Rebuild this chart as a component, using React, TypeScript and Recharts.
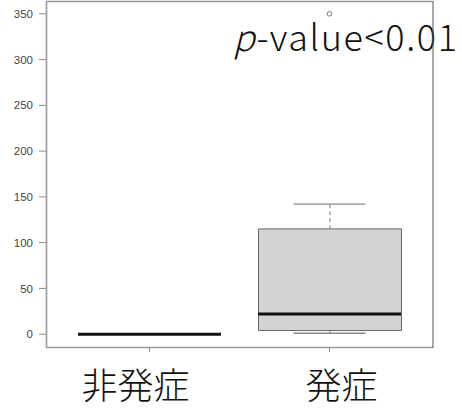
import React from "react";
import { ComposedChart, Bar, Scatter, XAxis, YAxis } from "recharts";

// group statistics
const groups = ["非発症", "発症"];
const whiskerLow = [0, 1];
const q1 = [0, 4];
const median = [0, 22];
const q3 = [0, 115];
const whiskerHigh = [0, 142];
const outliers: (number | null)[] = [null, 350];
const yTicks = [0, 50, 100, 150, 200, 250, 300, 350];

const data = groups.map((name, i) => ({
  name,
  box: [q1[i], q3[i]],
  upper: [q3[i], whiskerHigh[i]],
  lower: [whiskerLow[i], q1[i]],
  median: median[i],
  hi: whiskerHigh[i],
  lo: whiskerLow[i],
  outlier: outliers[i],
}));

const W = 462;
const H = 411;
const BOX_W = 143;
const LABEL_DX: Record<string, number> = { 非発症: -14, 発症: 12 };
const JP_FONT = '"Noto Sans CJK JP", "Noto Sans", sans-serif';

const Whisker = (props: any) => {
  const { x, y, width, height } = props;
  if (!height || !isFinite(y)) return null;
  const cx = x + width / 2;
  const top = Math.min(y, y + height);
  return (
    <line x1={cx} x2={cx} y1={top} y2={top + Math.abs(height)} stroke="#777" strokeWidth={1} strokeDasharray="4 3" />
  );
};

const hLine = (half: number, stroke: string, sw: number) => (props: any) => {
  const { cx, cy } = props;
  if (!isFinite(cx) || !isFinite(cy)) return null;
  return <line x1={cx - half} x2={cx + half} y1={cy} y2={cy} stroke={stroke} strokeWidth={sw} />;
};

const Outlier = (props: any) => {
  const { cx, cy, payload } = props;
  if (payload?.outlier == null || !isFinite(cy)) return null;
  return <circle cx={cx} cy={cy} r={2.3} fill="none" stroke="#777" strokeWidth={1} />;
};

const GroupTick = (props: any) => {
  const { x, y, payload } = props;
  return (
    <text
      x={x + (LABEL_DX[payload.value] ?? 0)}
      y={y + 29}
      textAnchor="middle"
      dominantBaseline="central"
      fontSize={36}
      fontFamily={JP_FONT}
      fontWeight={300}
      fill="#111"
    >
      {payload.value}
    </text>
  );
};

export default function App() {
  return (
    <div style={{ position: "relative", width: W, height: H, background: "#fff" }}>
      <style>{`body{margin:0}`}</style>
      <ComposedChart width={W} height={H} data={data} margin={{ top: 1, right: 29, left: 0, bottom: 0 }}>
        <XAxis
          dataKey="name"
          height={64}
          padding={{ left: 13.5, right: 13.5 }}
          axisLine={false}
          tickSize={5}
          tickLine={{ stroke: "#888" }}
          tick={<GroupTick />}
          interval={0}
        />
        <XAxis xAxisId="w1" dataKey="name" hide padding={{ left: 13.5, right: 13.5 }} />
        <XAxis xAxisId="w2" dataKey="name" hide padding={{ left: 13.5, right: 13.5 }} />
        <YAxis
          width={46}
          domain={[-14, 364]}
          ticks={yTicks}
          allowDataOverflow
          axisLine={false}
          tickSize={7}
          tickMargin={6}
          tickLine={{ stroke: "#888" }}
          tick={{ fill: "#444", fontSize: 11.5, fontFamily: '"Liberation Sans", Arial, sans-serif' }}
        />
        <Bar dataKey="box" barSize={BOX_W} fill="#d3d3d3" stroke="#666" strokeWidth={1} isAnimationActive={false} />
        <Bar xAxisId="w1" dataKey="upper" barSize={BOX_W} shape={<Whisker />} isAnimationActive={false} />
        <Bar xAxisId="w2" dataKey="lower" barSize={BOX_W} shape={<Whisker />} isAnimationActive={false} />
        <Scatter dataKey="hi" shape={hLine(36, "#888", 1.3)} isAnimationActive={false} />
        <Scatter dataKey="lo" shape={hLine(36, "#888", 1.3)} isAnimationActive={false} />
        <Scatter dataKey="median" shape={hLine(BOX_W / 2, "#111", 3)} isAnimationActive={false} />
        <Scatter dataKey="outlier" shape={<Outlier />} isAnimationActive={false} />
      </ComposedChart>
      <svg width={W} height={H} style={{ position: "absolute", left: 0, top: 0, pointerEvents: "none" }}>
        <text x={233} y={51} fontSize={36} fontFamily={JP_FONT} fontWeight={300} fill="#111" letterSpacing={1.6}>
          <tspan fontStyle="italic">p</tspan>-value&lt;0.01
        </text>
        <line x1={46.5} x2={46.5} y1={1} y2={348} stroke="#999" strokeWidth={1.6} />
        <line x1={46} x2={433} y1={347.5} y2={347.5} stroke="#999" strokeWidth={1.6} />
        <line x1={46} x2={433} y1={1.5} y2={1.5} stroke="#999" strokeWidth={1.6} />
        <line x1={433} x2={433} y1={1} y2={348} stroke="#555" strokeWidth={1} />
      </svg>
    </div>
  );
}
